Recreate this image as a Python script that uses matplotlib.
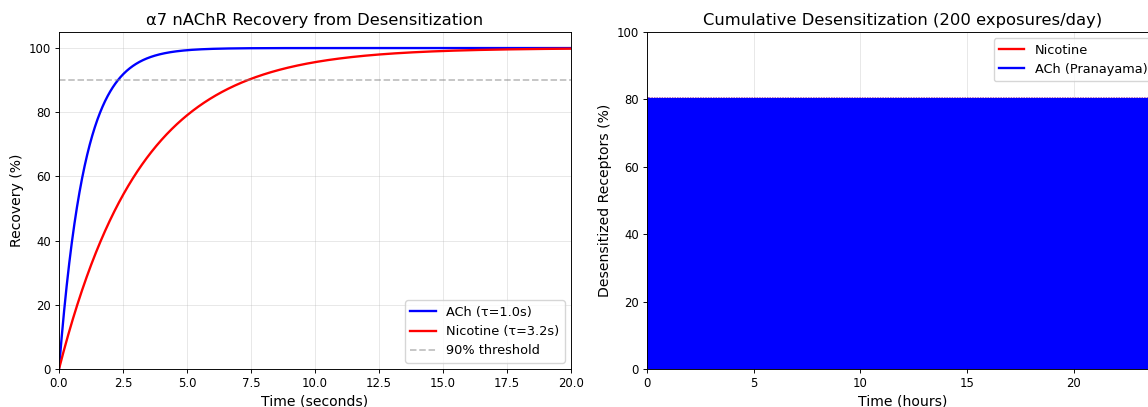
import numpy as np
import matplotlib
matplotlib.use("Agg")
import matplotlib.pyplot as plt
from matplotlib.lines import Line2D

# Data
tau_ach = 1.0        # s
tau_nic = 3.2        # s
threshold = 90       # %
t_max = 20.0         # s
exposures_per_day = 200
peak_desens_nic = 80  # %
peak_desens_ach = 80  # %
hours = 24

t = np.linspace(0, t_max, 1000)
rec_ach = 100 * (1 - np.exp(-t / tau_ach))
rec_nic = 100 * (1 - np.exp(-t / tau_nic))

tt = np.linspace(0, hours, 2 * exposures_per_day)
nic_curve = np.tile([peak_desens_nic, 0], exposures_per_day)
ach_curve = np.tile([peak_desens_ach, 0], exposures_per_day)

s = 0.84
plt.rcParams.update({
    'xtick.labelsize': 10 * s, 'ytick.labelsize': 10 * s,
    'xtick.major.size': 3.5 * s, 'ytick.major.size': 3.5 * s,
    'xtick.major.width': 0.8 * s, 'ytick.major.width': 0.8 * s,
    'xtick.major.pad': 3.5 * s, 'ytick.major.pad': 3.5 * s,
    'axes.linewidth': 0.8 * s, 'grid.linewidth': 0.8 * s,
    'axes.titlepad': 6 * s, 'axes.labelpad': 4 * s,
})

fig = plt.figure(figsize=(11.48, 4.07), dpi=100)
W, H = 1148, 407
ax1 = fig.add_axes([59 / W, 1 - 369 / H, 512 / W, 337 / H])
ax2 = fig.add_axes([647 / W, 1 - 369 / H, 512 / W, 337 / H])

lw = 2 * s
ax1.plot(t, rec_ach, color='blue', lw=lw, label=f'ACh (τ={tau_ach}s)')
ax1.plot(t, rec_nic, color='red', lw=lw, label=f'Nicotine (τ={tau_nic}s)')
ax1.axhline(threshold, color='gray', ls='--', lw=1.5 * s, alpha=0.5, label='90% threshold')
ax1.set_xlim(0, t_max)
ax1.set_ylim(0, 105)
ax1.set_xlabel('Time (seconds)', fontsize=12 * s)
ax1.set_ylabel('Recovery (%)', fontsize=12 * s)
ax1.set_title('α7 nAChR Recovery from Desensitization', fontsize=14 * s)
ax1.grid(True, alpha=0.3)
ax1.legend(loc='lower right', fontsize=11 * s)

ax2.plot(tt, nic_curve, color='red', lw=2.6)
ax2.plot(tt, ach_curve, color='blue', lw=2.6)
handles = [Line2D([], [], color='red', lw=lw), Line2D([], [], color='blue', lw=lw)]
ax2.set_xlim(0, hours)
ax2.set_ylim(0, 100)
ax2.set_xlabel('Time (hours)', fontsize=12 * s)
ax2.set_ylabel('Desensitized Receptors (%)', fontsize=12 * s)
ax2.set_title('Cumulative Desensitization (200 exposures/day)', fontsize=14 * s)
ax2.grid(True, alpha=0.3)
ax2.legend(handles, ['Nicotine', 'ACh (Pranayama)'], loc='upper right', fontsize=11 * s)

fig.savefig('out.png', dpi=100)
